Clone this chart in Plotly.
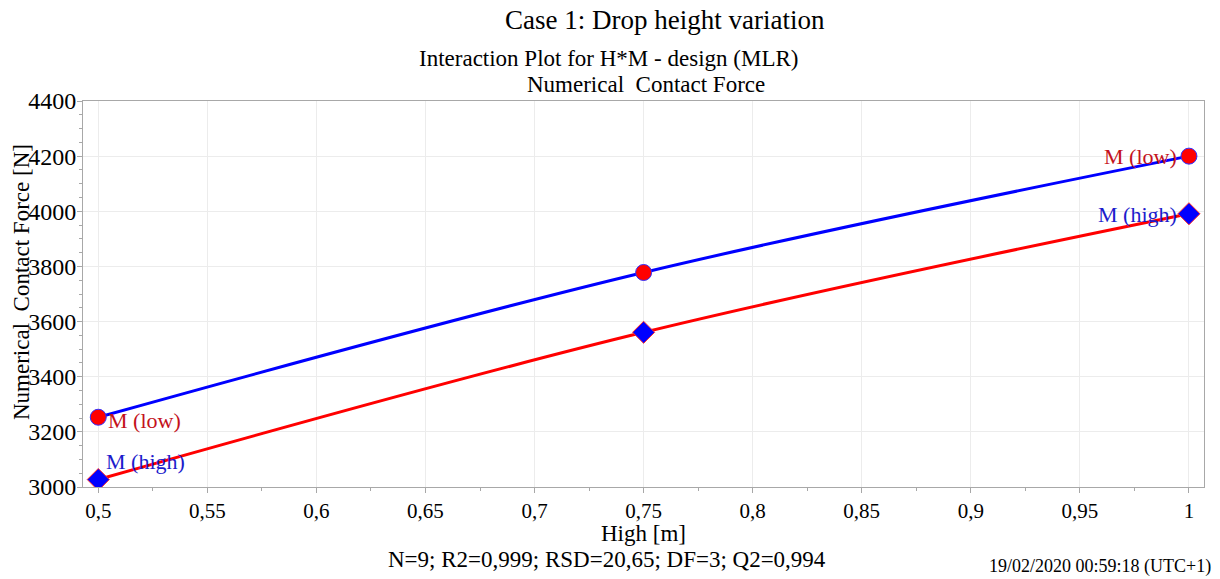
import plotly.graph_objects as go

heights = [0.5, 0.75, 1.0]
force_m_low = [3253, 3778, 4200]
force_m_high = [3027, 3561, 3991]

FONT = "Liberation Serif, Times New Roman, serif"
RED_TXT = "#c4121c"
BLUE_TXT = "#1c1ccc"

fig = go.Figure()
fig.add_trace(go.Scatter(
    x=heights, y=force_m_low, mode="lines+markers",
    line=dict(color="#0000ff", width=3, shape="spline"),
    marker=dict(symbol="circle", size=16, color="#ff0000", line=dict(color="#3030ff", width=1)),
    showlegend=False, hoverinfo="x+y"))
fig.add_trace(go.Scatter(
    x=heights, y=force_m_high, mode="lines+markers",
    line=dict(color="#ff0000", width=3, shape="spline"),
    marker=dict(symbol="diamond", size=17, color="#0000ff", line=dict(color="#ff3030", width=1)),
    showlegend=False, hoverinfo="x+y"))

ann = []
ann.append(dict(x=heights[0], y=force_m_low[0], text="M (low)", xref="x", yref="y",
                xanchor="left", yanchor="middle", xshift=8, yshift=-3, showarrow=False,
                font=dict(family=FONT, size=22, color=RED_TXT)))
ann.append(dict(x=heights[0], y=force_m_high[0], text="M (high)", xref="x", yref="y",
                xanchor="left", yanchor="middle", xshift=6, yshift=18, showarrow=False,
                font=dict(family=FONT, size=22, color=BLUE_TXT)))
ann.append(dict(x=heights[-1], y=force_m_low[-1], text="M (low)", xref="x", yref="y",
                xanchor="right", yanchor="middle", xshift=-10, yshift=0, showarrow=False,
                font=dict(family=FONT, size=22, color=RED_TXT)))
ann.append(dict(x=heights[-1], y=force_m_high[-1], text="M (high)", xref="x", yref="y",
                xanchor="right", yanchor="middle", xshift=-10, yshift=-1, showarrow=False,
                font=dict(family=FONT, size=22, color=BLUE_TXT)))

def py(p):
    return (487 - p) / 386.0

def px(p):
    return (p - 83) / 1121.0

texts = [
    ("Case 1: Drop height variation", 665, 20, 27, "center"),
    ("Interaction Plot for H*M - design (MLR)", 608, 58, 23, "center"),
    ("Numerical \u00a0Contact Force", 646, 84, 23, "center"),
    ("High [m]", 643, 533, 23, "center"),
    ("N=9; R2=0,999; RSD=20,65; DF=3; Q2=0,994", 607, 559, 23, "center"),
]
for t, cx, cy, sz, anc in texts:
    ann.append(dict(x=px(cx), y=py(cy), xref="paper", yref="paper", text=t, showarrow=False,
                    xanchor=anc, yanchor="middle", font=dict(family=FONT, size=sz, color="black")))
ann.append(dict(x=px(1213), y=py(566), xref="paper", yref="paper", text="19/02/2020 00:59:18 (UTC+1)",
                showarrow=False, xanchor="right", yanchor="middle",
                font=dict(family=FONT, size=18, color="black")))
ann.append(dict(x=px(21), y=py(282), xref="paper", yref="paper", text="Numerical \u00a0Contact Force [N]",
                showarrow=False, textangle=-90, xanchor="center", yanchor="middle",
                font=dict(family=FONT, size=23, color="black")))

fig.update_layout(
    width=1220, height=579,
    margin=dict(l=83, r=16, t=101, b=92, autoexpand=False),
    paper_bgcolor="white", plot_bgcolor="white",
    separators=",.",
    font=dict(family=FONT, size=22, color="black"),
    annotations=ann,
    showlegend=False,
)
fig.update_xaxes(
    range=[0.493, 1.0069], dtick=0.05, tick0=0.5, automargin=False,
    showgrid=True, gridcolor="#ececec", gridwidth=1,
    showline=True, linecolor="#a8a8a8", linewidth=1, mirror=True,
    ticks="outside", ticklen=5, tickcolor="#a8a8a8",
    minor=dict(dtick=0.025, tick0=0.5, ticks="outside", ticklen=3, tickcolor="#a8a8a8", showgrid=False),
    tickfont=dict(family=FONT, size=21, color="black"), zeroline=False,
)
fig.update_yaxes(
    range=[3000, 4400], dtick=200, tick0=3000, automargin=False,
    showgrid=True, gridcolor="#ececec", gridwidth=1,
    showline=True, linecolor="#a8a8a8", linewidth=1, mirror=True,
    ticks="outside", ticklen=5, tickcolor="#a8a8a8", ticklabelstandoff=-4,
    minor=dict(dtick=50, ticks="outside", ticklen=3, tickcolor="#a8a8a8", showgrid=False),
    tickfont=dict(family=FONT, size=24, color="black"), zeroline=False,
)

fig.write_html("out.html", config={"displayModeBar": False},
               post_script="document.body.style.margin='0';document.body.style.overflow='hidden';")
